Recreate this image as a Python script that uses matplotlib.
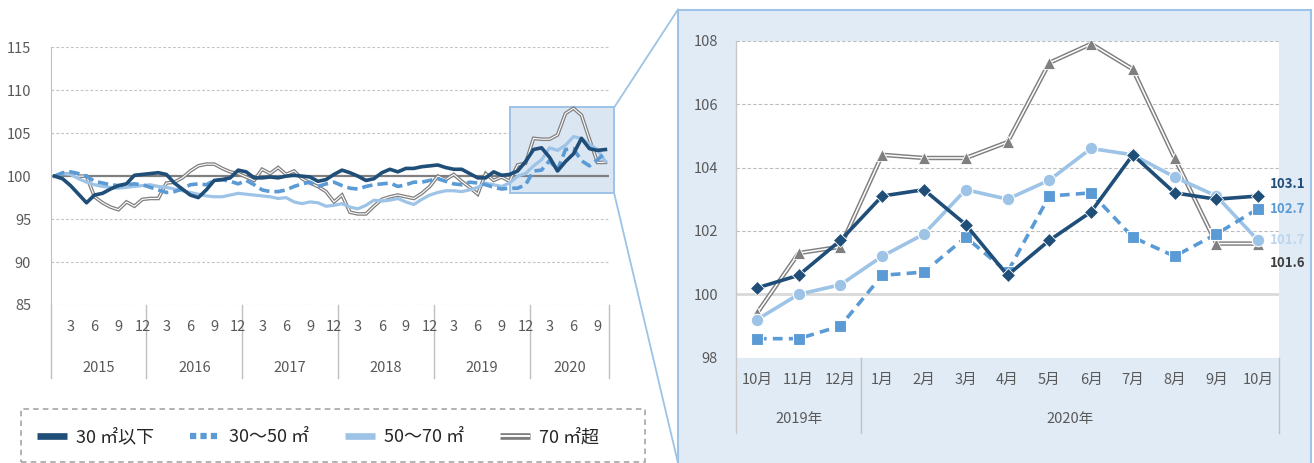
import numpy as np
import matplotlib
matplotlib.use('Agg')
import matplotlib.pyplot as plt
from matplotlib.patches import Rectangle
from matplotlib.lines import Line2D
import matplotlib.patheffects as pe
import matplotlib.transforms as mtrans

plt.rcParams['font.family'] = ['Noto Sans CJK JP', 'DejaVu Sans']
plt.rcParams['lines.scale_dashes'] = False

# ---------------- data ----------------
years = ['2015', '2016', '2017', '2018', '2019', '2020']
months_per_year = [12, 12, 12, 12, 12, 10]
month_ticks = [3, 6, 9, 12]

zoom_months = ['10月', '11月', '12月', '1月', '2月', '3月', '4月', '5月', '6月',
               '7月', '8月', '9月', '10月']
zoom_years = ['2019年', '2020年']
zoom_year_counts = [3, 10]

series_names = ['30 ㎡以下', '30～50 ㎡', '50～70 ㎡', '70 ㎡超']

# Oct 2019 - Oct 2020 (right panel)
s30_zoom = [100.2, 100.6, 101.7, 103.1, 103.3, 102.2, 100.6, 101.7, 102.6, 104.4, 103.2, 103.0, 103.1]
s3050_zoom = [98.6, 98.6, 99.0, 100.6, 100.7, 101.8, 100.7, 103.1, 103.2, 101.8, 101.2, 101.9, 102.7]
s5070_zoom = [99.2, 100.0, 100.3, 101.2, 101.9, 103.3, 103.0, 103.6, 104.6, 104.4, 103.7, 103.1, 101.7]
s70_zoom = [99.4, 101.3, 101.5, 104.4, 104.3, 104.3, 104.8, 107.3, 107.9, 107.1, 104.3, 101.6, 101.6]

# Jan 2015 - Sep 2019 (left panel history)
s30_hist = [100.0, 99.7, 98.9, 97.9, 96.9, 97.8, 98.0, 98.5, 98.9, 99.1, 100.1, 100.2,
            100.3, 100.4, 100.2, 99.2, 98.5, 97.8, 97.5, 98.4, 99.5, 99.6, 99.8, 100.7,
            100.5, 99.8, 99.8, 99.9, 99.8, 100.0, 100.1, 100.0, 99.9, 99.4, 99.6, 100.2,
            100.7, 100.4, 100.0, 99.5, 99.7, 100.4, 100.8, 100.5, 100.9, 100.9, 101.1, 101.2,
            101.3, 101.0, 100.8, 100.8, 100.3, 99.8, 99.8, 100.5, 100.1]
s3050_hist = [100.0, 100.4, 100.5, 100.3, 100.0, 99.4, 99.2, 99.0, 98.9, 99.0, 99.1, 99.0,
              98.7, 98.4, 98.1, 98.2, 98.5, 99.0, 99.1, 99.0, 99.5, 99.6, 99.4, 99.1,
              99.5, 99.0, 98.4, 98.2, 98.2, 98.4, 98.8, 99.1, 99.3, 98.8, 99.1, 99.3,
              98.9, 98.6, 98.5, 98.8, 99.0, 99.1, 99.2, 98.8, 99.0, 99.3, 99.3, 99.5,
              99.7, 99.4, 99.1, 99.0, 99.3, 99.2, 99.0, 98.7, 98.5]
s5070_hist = [100.0, 100.3, 100.2, 99.7, 99.3, 99.0, 98.8, 98.7, 98.6, 98.7, 98.8, 98.9,
              99.0, 98.8, 98.7, 98.5, 98.3, 98.1, 97.9, 97.7, 97.6, 97.6, 97.8, 98.0,
              97.9, 97.8, 97.7, 97.6, 97.4, 97.5, 97.0, 96.8, 97.0, 96.9, 96.5, 96.6,
              96.8, 96.4, 96.2, 96.6, 97.2, 97.1, 97.2, 97.4, 97.0, 96.7, 97.3, 97.8,
              98.1, 98.3, 98.3, 98.2, 98.4, 98.7, 99.2, 99.0, 98.8]
s70_hist = [100.0, 100.3, 100.2, 100.0, 100.0, 97.6, 96.9, 96.4, 96.1, 97.0, 96.5, 97.3,
            97.4, 97.4, 99.2, 99.3, 99.8, 100.6, 101.2, 101.4, 101.4, 100.9, 100.5, 100.3,
            99.9, 99.5, 100.8, 100.3, 101.0, 100.2, 100.6, 99.7, 99.2, 98.8, 98.2, 97.0,
            97.8, 95.8, 95.6, 95.6, 96.5, 97.3, 97.6, 97.8, 97.6, 97.4, 98.0, 98.8,
            100.0, 99.6, 100.2, 99.4, 98.7, 97.9, 100.3, 99.5, 99.9]

# ---------------- styles ----------------
C_NAVY = '#1f4e79'
C_MID = '#5b9bd5'
C_LIGHT = '#9dc3e6'
C_GRAY = '#7f7f7f'
C_TXT = '#595959'
PANEL = '#e1ebf6'

W, H = 1314, 463
fig = plt.figure(figsize=(W / 100, H / 100), dpi=100)


def fx(x):
    return x / W


def fy(y):
    return 1 - y / H


# ================= left chart =================
ax1 = fig.add_axes([fx(50.6), fy(305), (609.4 - 50.6) / W, (305 - 47.3) / H])
s30 = s30_hist + s30_zoom
s3050 = s3050_hist + s3050_zoom
s5070 = s5070_hist + s5070_zoom
s70 = s70_hist + s70_zoom
n_months = sum(months_per_year)
xs = np.arange(len(s30)) + 0.5

ax1.set_xlim(0, n_months)
ax1.set_ylim(85, 115)
for v in [85, 90, 95, 105, 110, 115]:
    ax1.axhline(v, color='#c4c4c4', lw=0.8, ls=(0, (2, 1.5)), zorder=1)
ax1.axhline(100, color='#808080', lw=1.6, zorder=2.5)

for s in ['top', 'right', 'bottom']:
    ax1.spines[s].set_visible(False)
ax1.spines['left'].set_color('#bfbfbf')
ax1.set_xticks([])
ax1.set_yticks(range(85, 116, 5))
ax1.tick_params(axis='y', length=0, pad=14, labelsize=10.5, labelcolor=C_TXT)

ax1.plot(xs, s70, color=C_GRAY, lw=2.6, zorder=3, solid_joinstyle='miter')
ax1.plot(xs, s70, color='white', lw=0.8, zorder=3.1)
ax1.plot(xs, s5070, color=C_LIGHT, lw=2.3, zorder=3.2)
ax1.plot(xs, s3050, color=C_MID, lw=2.6, dashes=(7.5, 3.6), zorder=3.3)
ax1.plot(xs, s30, color=C_NAVY, lw=2.6, zorder=3.4)

trans1 = mtrans.blended_transform_factory(ax1.transData, ax1.transAxes)
bounds = np.concatenate([[0], np.cumsum(months_per_year)])
for b in bounds:
    ax1.plot([b, b], [0, -0.283], transform=trans1, color='#bfbfbf', lw=1, clip_on=False)
for yi, n in enumerate(months_per_year):
    start = bounds[yi]
    for m in month_ticks:
        if m <= n:
            ax1.text(start + m - 0.5, -0.0854, str(m), transform=trans1, ha='center',
                     va='center', fontsize=10.5, color=C_TXT)
    ax1.text(start + n / 2, -0.2445, years[yi], transform=trans1, ha='center',
             va='center', fontsize=10.5, color=C_TXT)

# highlight rectangle on the zoomed period
zoom_start = len(s30_hist) + 0.5
zr = Rectangle((zoom_start, 98), n_months + 0.6 - zoom_start, 10, transform=ax1.transData,
               clip_on=False, fc='#dbe6f3', ec='#9dc3e6', lw=1.4, zorder=2)
ax1.add_patch(zr)

# ================= right panel =================
fig.add_artist(Rectangle((fx(678), fy(470)), (1310.5 - 678) / W, (470 - 9.5) / H,
                         transform=fig.transFigure, fc=PANEL, ec='#9dc3e6', lw=1.5, zorder=-5))

# connectors
fig.canvas.draw()
inv = fig.transFigure.inverted()
p_top = inv.transform(ax1.transData.transform((n_months + 0.6, 108)))
p_bot = inv.transform(ax1.transData.transform((n_months + 0.6, 98)))
fig.add_artist(Line2D([p_top[0], fx(678)], [p_top[1], fy(9.5)], transform=fig.transFigure,
                      color='#9dc3e6', lw=1.3, zorder=-4))
fig.add_artist(Line2D([p_bot[0], fx(678)], [p_bot[1], fy(463)], transform=fig.transFigure,
                      color='#9dc3e6', lw=1.3, zorder=-4))

ax2 = fig.add_axes([fx(736), fy(357.7), 543 / W, (357.7 - 40.7) / H])
ax2.set_facecolor('white')
xz = np.arange(len(zoom_months))
ax2.set_xlim(-0.5, len(zoom_months) - 0.5)
ax2.set_ylim(98, 108)
for s in ['top', 'right', 'bottom', 'left']:
    ax2.spines[s].set_visible(False)
for v in [98, 102, 104, 106, 108]:
    ax2.axhline(v, color='#bdbdbd', lw=0.8, ls=(0, (2.5, 1.5)), zorder=1)
ax2.axhline(100, color='#d9d9d9', lw=2, zorder=1)
ax2.set_xticks([])
ax2.set_yticks(range(98, 109, 2))
ax2.tick_params(axis='y', length=0, pad=13, labelsize=10.5, labelcolor=C_TXT)

ax2.plot(xz, s70_zoom, color=C_GRAY, lw=3.2, zorder=3)
ax2.plot(xz, s70_zoom, color='white', lw=1.1, zorder=3.05)
ax2.plot(xz, s70_zoom, ls='none', marker='^', ms=8.5, color=C_GRAY, mec='white', mew=0.6, zorder=3.1)
ax2.plot(xz, s5070_zoom, color=C_LIGHT, lw=2.6, marker='o', ms=9, mec='white', mew=0.8, zorder=3.2)
ax2.plot(xz, s3050_zoom, color=C_MID, lw=2.6, dashes=(7, 4.5), marker='s', ms=9, mec='white',
         mew=0.8, zorder=3.3)
ax2.plot(xz, s30_zoom, color=C_NAVY, lw=2.6, marker='D', ms=7, mec='white', mew=0.6, zorder=3.4)

last = len(zoom_months) - 1
ann = [(s30_zoom[last], C_NAVY, 9),
       (s3050_zoom[last], C_MID, 0),
       (s5070_zoom[last], '#bdd7ee', 0),
       (s70_zoom[last], '#404040', -14)]
for val, col, dy in ann:
    ax2.annotate(f'{val:.1f}', xy=(last, val), xytext=(8.5, dy), textcoords='offset points',
                 ha='left', va='center', fontsize=9.5, fontweight='bold', color=col,
                 annotation_clip=False, zorder=5)

trans2 = mtrans.blended_transform_factory(ax2.transData, ax2.transAxes)
zb = np.concatenate([[0], np.cumsum(zoom_year_counts)]) - 0.5
ax2.plot([-0.5, -0.5], [1, -0.2375], transform=trans2, color='#c8c8c8', lw=1, clip_on=False, zorder=6)
for b in zb[1:]:
    ax2.plot([b, b], [0, -0.2375], transform=trans2, color='#c0c0c0', lw=1, clip_on=False)
for i, lab in enumerate(zoom_months):
    ax2.text(i, -0.0703, lab, transform=trans2, ha='center', va='center', fontsize=10.5, color=C_TXT)
for yi, lab in enumerate(zoom_years):
    ax2.text((zb[yi] + zb[yi + 1]) / 2, -0.193, lab, transform=trans2, ha='center', va='center',
             fontsize=10.5, color=C_TXT)

# ================= legend =================
handles = [
    Line2D([], [], color=C_NAVY, lw=4.8, solid_capstyle='butt'),
    Line2D([], [], color=C_MID, lw=4.5, dashes=(4.5, 3)),
    Line2D([], [], color=C_LIGHT, lw=4.8, solid_capstyle='butt'),
    Line2D([], [], color='white', lw=1.4, solid_capstyle='butt',
           path_effects=[pe.Stroke(linewidth=4.8, foreground=C_GRAY, capstyle='butt'), pe.Normal()]),
]
fig.legend(handles, series_names, loc='center left', bbox_to_anchor=(fx(37), fy(437)),
           ncol=4, frameon=False, fontsize=13, handlelength=1.65, handletextpad=0.5,
           columnspacing=2.0, borderpad=0, borderaxespad=0,
           labelcolor='#262626')
fig.add_artist(Rectangle((fx(21), fy(462)), (645 - 21) / W, (462 - 409) / H,
                         transform=fig.transFigure, fill=False, ec='#a6a6a6',
                         ls=(0, (4, 3)), lw=1.2))

fig.savefig('out.png', dpi=100)
